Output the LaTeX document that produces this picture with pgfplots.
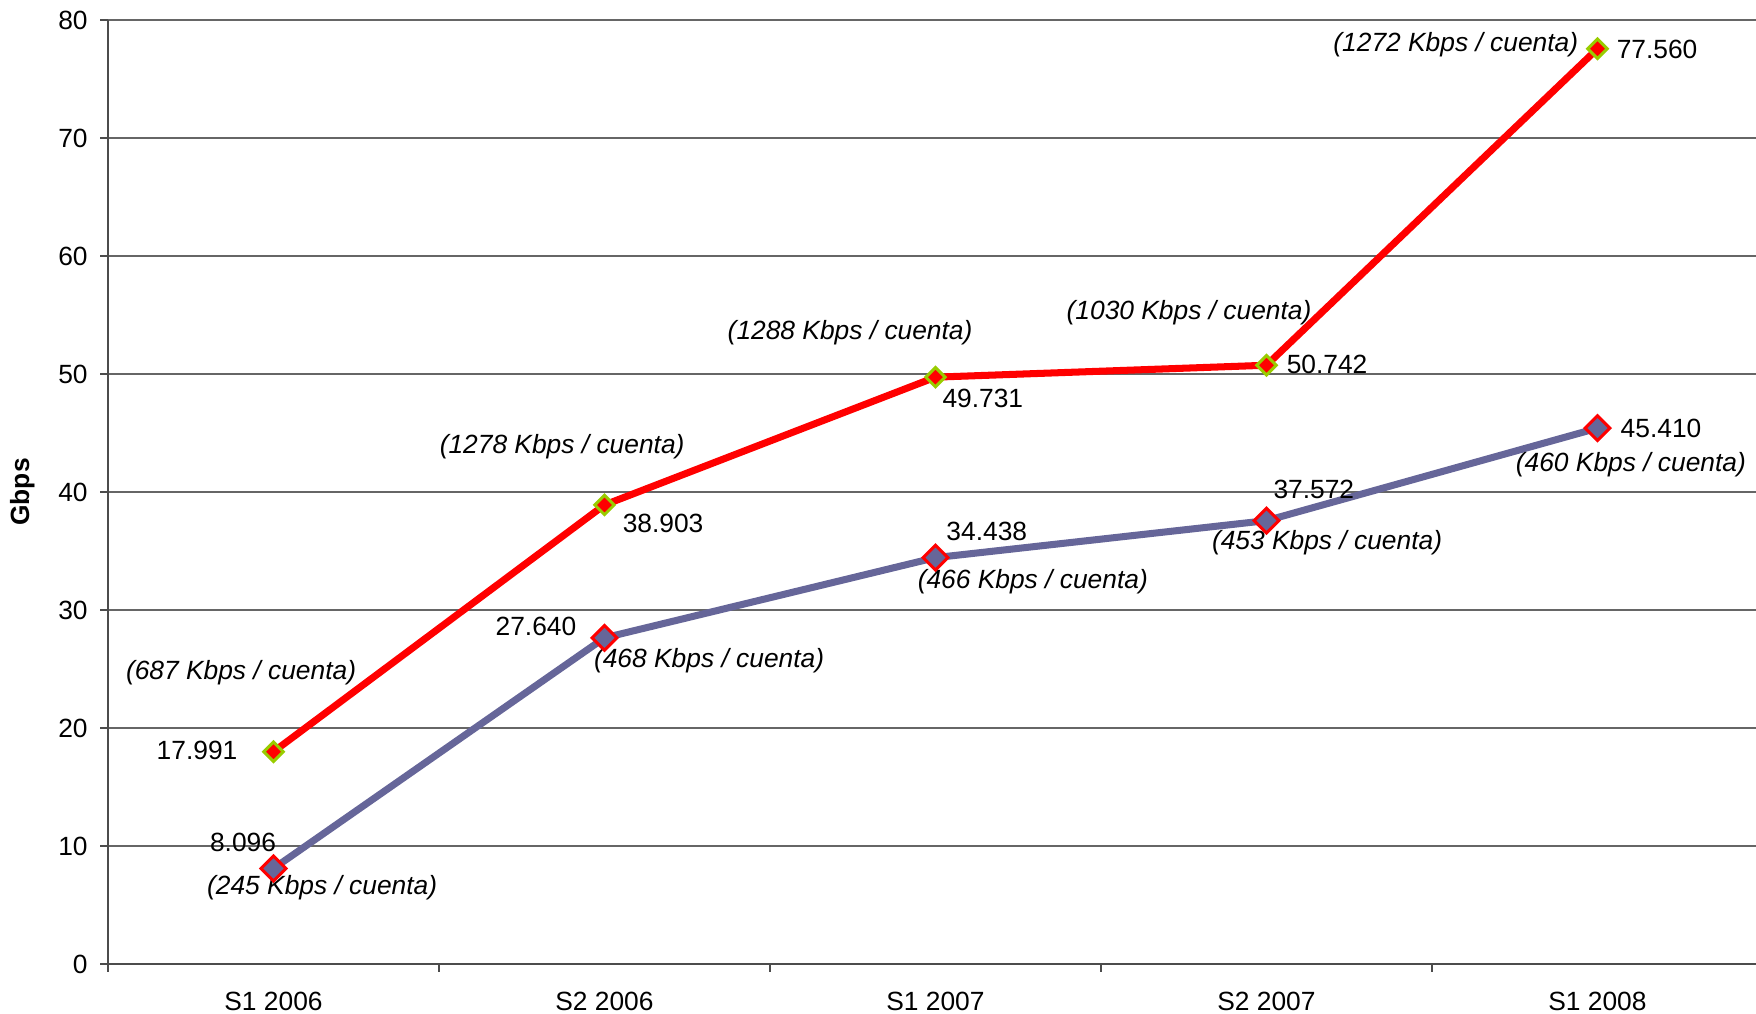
\documentclass[border=0pt]{standalone}
\usepackage{pgfplots}
\pgfplotsset{compat=1.18}
\usepackage{fontspec}
\setmainfont{Liberation Sans}

\definecolor{lineblue}{HTML}{666699}
\definecolor{limegreen}{HTML}{99CC00}

\newcommand{\lblfont}{\fontsize{7.5}{9}\selectfont}

\begin{document}
\begin{tikzpicture}
  \begin{axis}[
    at={(1.08cm,0.50cm)}, anchor=south west,
    scale only axis,
    width=16.48cm, height=9.44cm,
    xmin=-0.5, xmax=4.479,
    ymin=0, ymax=80,
    clip=false,
    axis x line=bottom, axis y line=left,
    axis line style={-, black!70, line width=0.5pt},
    ytick={0,10,...,80},
    xtick={0,1,2,3,4},
    xticklabels={S1 2006,S2 2006,S1 2007,S2 2007,S1 2008},
    minor xtick={-0.5,0.5,1.5,2.5,3.5},
    major x tick style={draw=none},
    tick align=outside,
    tick style={black!70, line width=0.5pt},
    major tick length=0.08cm,
    minor tick length=0.08cm,
    ymajorgrids,
    major grid style={black!60, line width=0.4pt},
    /pgf/number format/assume math mode=true,
    tick label style={font=\lblfont},
    xticklabel style={yshift=-0.08cm},
    ylabel={\textbf{Gbps}},
    every axis y label/.style={at={(axis description cs:-0.052,0.5)}, rotate=90, anchor=center, font=\lblfont},
  ]
    \addplot[color=red, line width=2pt, mark=square*,
      mark size=1.95pt, mark options={rotate=45, fill=red, draw=limegreen, line width=0.85pt}]
      coordinates {(0,17.991) (1,38.903) (2,49.731) (3,50.742) (4,77.560)};
    \addplot[color=lineblue, line width=2pt, mark=square*,
      mark size=2.5pt, mark options={rotate=45, fill=lineblue, draw=red, line width=0.85pt}]
      coordinates {(0,8.096) (1,27.640) (2,34.438) (3,37.572) (4,45.410)};

    \begin{scope}[every node/.style={font=\lblfont, inner sep=0pt}]
      % upper series
      \node at (axis cs:-0.098,24.66) {\itshape (687 Kbps / cuenta)};
      \node at (axis cs:-0.231,18.1) {17.991};
      \node at (axis cs:0.872,43.8) {\itshape (1278 Kbps / cuenta)};
      \node at (axis cs:1.177,37.3) {38.903};
      \node at (axis cs:1.742,53.5) {\itshape (1288 Kbps / cuenta)};
      \node at (axis cs:2.143,47.9) {49.731};
      \node at (axis cs:2.766,55.2) {\itshape (1030 Kbps / cuenta)};
      \node at (axis cs:3.183,50.8) {50.742};
      \node at (axis cs:3.572,77.9) {\itshape (1272 Kbps / cuenta)};
      \node at (axis cs:4.180,77.5) {77.560};
      % lower series
      \node at (axis cs:-0.092,10.3) {8.096};
      \node at (axis cs:0.147,6.5) {\itshape (245 Kbps / cuenta)};
      \node at (axis cs:0.793,28.6) {27.640};
      \node at (axis cs:1.316,25.7) {\itshape (468 Kbps / cuenta)};
      \node at (axis cs:2.155,36.7) {34.438};
      \node at (axis cs:2.294,32.4) {\itshape (466 Kbps / cuenta)};
      \node at (axis cs:3.143,40.2) {37.572};
      \node at (axis cs:3.183,35.7) {\itshape (453 Kbps / cuenta)};
      \node at (axis cs:4.192,45.4) {45.410};
      \node at (axis cs:4.101,42.3) {\itshape (460 Kbps / cuenta)};
    \end{scope}
  \end{axis}
  \pgfresetboundingbox
  \path[use as bounding box] (0,0) rectangle (17.56cm,10.14cm);
\end{tikzpicture}
\end{document}
